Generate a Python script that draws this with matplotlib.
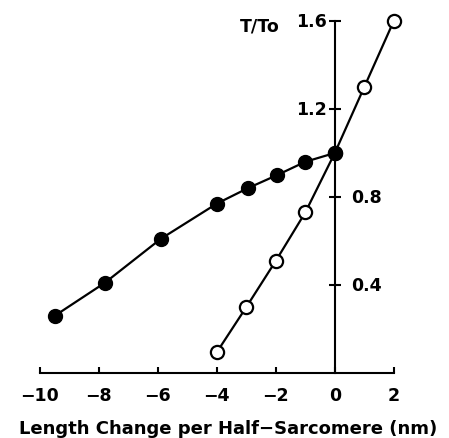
import numpy as np
import matplotlib
matplotlib.use('Agg')
import matplotlib.pyplot as plt

# filled circles
x_filled = [-9.5, -7.8, -5.9, -4.0, -2.95, -1.95, -1.0, 0.0]
y_filled = [0.26, 0.41, 0.61, 0.77, 0.84, 0.90, 0.96, 1.0]
# open circles
x_open = [-4.0, -3.0, -2.0, -1.0, 0.0, 1.0, 2.0]
y_open = [0.095, 0.30, 0.51, 0.73, 1.0, 1.30, 1.60]

xticks = [-10, -8, -6, -4, -2, 0, 2]
yticks = [0.4, 0.8, 1.2, 1.6]
ytick_labels = ['0.4', '0.8', '1.2', '1.6']

plt.rcParams['font.family'] = 'DejaVu Sans'
plt.rcParams['font.weight'] = 'bold'
fs = 12.5
fig = plt.figure(figsize=(4.49, 4.39), dpi=100)
ax = fig.add_axes([0.089, 0.148, 0.788, 0.802])

ax.plot(x_open, y_open, color='black', lw=1.6, marker='o', ms=9.5,
        mfc='white', mec='black', mew=1.6, clip_on=False, zorder=3)
ax.plot(x_filled, y_filled, color='black', lw=1.6, marker='o', ms=10,
        mfc='black', mec='black', clip_on=False, zorder=4)

ax.set_xlim(-10, 2)
ax.set_ylim(0, 1.6)

for s in ['top', 'right']:
    ax.spines[s].set_visible(False)
ax.spines['left'].set_position(('data', 0))
ax.spines['left'].set_linewidth(1.5)
ax.spines['bottom'].set_linewidth(1.5)

ax.set_xticks(xticks)
ax.set_xticklabels([str(t).replace('-', '\u2212') for t in xticks], fontsize=fs)
ax.tick_params(axis='x', direction='in', length=4, width=1.5, pad=9)

ax.set_yticks(yticks)
ax.set_yticklabels([])
ax.tick_params(axis='y', direction='inout', length=8, width=1.5)

# y labels: upper ones on the left of the axis, lower ones on the right
for v, lab in zip(yticks, ytick_labels):
    if v > 1.0:
        ax.annotate(lab, (0, v), xytext=(-6, 0), textcoords='offset points',
                    ha='right', va='center', fontsize=fs)
    else:
        ax.annotate(lab, (0, v), xytext=(12, 0), textcoords='offset points',
                    ha='left', va='center', fontsize=fs)

ax.annotate('T/To', (0, 1.6), xytext=(-40, -3), textcoords='offset points',
            ha='right', va='center', fontsize=fs)

ax.set_xlabel('Length Change per Half\u2212Sarcomere (nm)', fontsize=13,
              fontweight='bold')
ax.xaxis.set_label_coords(0.531, -0.13)

fig.savefig('out.png', dpi=100)
